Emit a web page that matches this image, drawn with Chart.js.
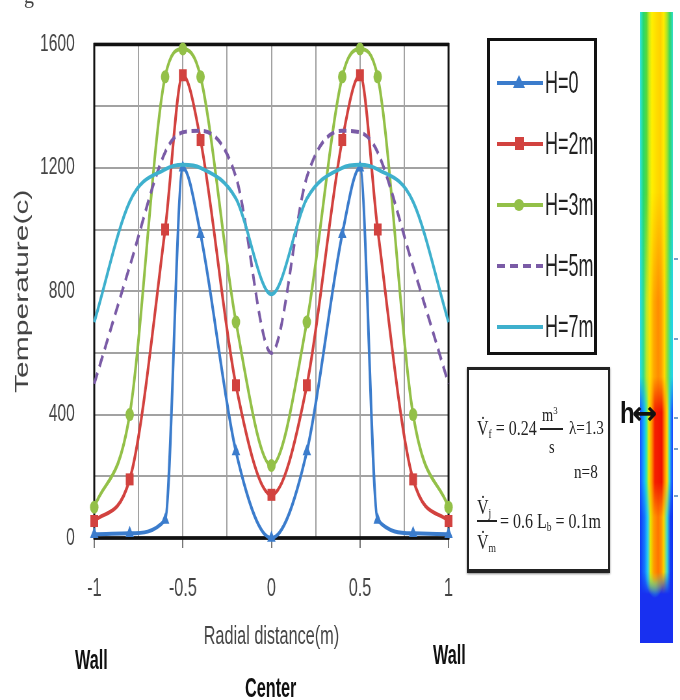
<!DOCTYPE html>
<html>
<head>
<meta charset="utf-8">
<script src="https://cdn.jsdelivr.net/npm/chart.js@4"></script>
<style>
body { margin: 0; background: #fff; }
#page { position: relative; width: 680px; height: 700px; overflow: hidden; font-family: 'Liberation Sans', Arial, sans-serif; }
/* la figura original esta comprimida en horizontal: se dibuja ancha y se estrecha */
#chartBox { position: absolute; left: 0; top: 0; width: 723px; height: 700px; transform: scaleX(0.65); transform-origin: 0 0; }
#legend { position: absolute; left: 487px; top: 38px; width: 104px; height: 311px; border: 3px solid #111; background: #fff; }
#legend .item { position: absolute; left: 7px; height: 30px; display: flex; align-items: center; }
#legend .item span { font-size: 31px; color: #222; display: inline-block; transform: scaleX(0.58); transform-origin: left center; margin-left: 2px; }
#params { position: absolute; left: 467px; top: 367px; width: 139px; height: 199px; border-left: 2px solid #222; border-right: 2px solid #222; border-top: 3px solid #222; border-bottom: 4px solid #222; box-shadow: 0 1px 2px #888; font-family: 'Liberation Serif', serif; color: #222; background: #fff; }
#params div { position: absolute; white-space: nowrap; line-height: 22px; font-size: 20px; transform: scaleX(0.8); transform-origin: left center; }
#params div.bar { height: 1.5px; background: #222; transform: none; }
#params sub { font-size: 12px; vertical-align: -3px; }
.lbl { position: absolute; font-weight: bold; font-size: 28px; color: #111; transform: scaleX(0.58); transform-origin: left center; white-space: nowrap; }
#strip { position: absolute; left: 640px; top: 12px; width: 33px; height: 631px; overflow: hidden; }
#strip div { position: absolute; left: 0; width: 33px; }
.tk { position: absolute; left: 674px; width: 4px; height: 1.5px; background: #7aa0c8; }
</style>
</head>
<body>
<div id="page">
  <div id="chartBox"><canvas id="myChart"></canvas></div>
  <div style="position:absolute;left:24px;top:-15px;font:20px 'Liberation Serif',serif;color:#444;">g</div>
  <div id="legend"></div>
  <div id="params">
    <div style="left:8px;top:47px;">V&#x307;<sub>f</sub> = 0.24</div>
    <div style="left:73px;top:29px;font-size:18px;">m<sup style="font-size:11px;">3</sup></div>
    <div class="bar" style="left:71px;top:58px;width:23px;"></div>
    <div style="left:80px;top:66px;font-size:18px;">s</div>
    <div style="left:100px;top:47px;font-size:19px;">&lambda;=1.3</div>
    <div style="left:105px;top:91px;font-size:19px;">n=8</div>
    <div style="left:8px;top:126px;">V&#x307;<sub>j</sub></div>
    <div class="bar" style="left:8px;top:150px;width:20px;"></div>
    <div style="left:8px;top:161px;">V&#x307;<sub>m</sub></div>
    <div style="left:31px;top:140px;">= 0.6 L<sub>b</sub> = 0.1m</div>
  </div>
  <div class="lbl" style="left:75px;top:644px;">Wall</div>
  <div class="lbl" style="left:433px;top:639px;">Wall</div>
  <div class="lbl" style="left:245px;top:672px;">Center</div>
  <div id="strip">
    <div style="top:0;height:300px;background:linear-gradient(to right,#34e4e8 0%,#26d870 10%,#5ad83a 20%,#c8ea1c 28%,#fff000 36%,#ffdc00 50%,#ffd000 62%,#ffec00 72%,#a6e42a 82%,#2ed668 91%,#30dcd0 100%);"></div>
    <div style="top:180px;height:230px;-webkit-mask-image:linear-gradient(to bottom,transparent,#000 110px);background:linear-gradient(to right,#28dcf0 0%,#30da90 10%,#b8e82a 20%,#ffe000 30%,#ffa800 42%,#ff8c00 55%,#ff9c00 64%,#ffd800 74%,#80e040 84%,#26d8c8 93%,#28d0f0 100%);"></div>
    <div style="top:365px;height:150px;-webkit-mask-image:linear-gradient(to bottom,transparent,#000 35px);background:linear-gradient(to right,#1a4cff 0%,#12b4ff 13%,#3ee6a0 20%,#f0e800 27%,#ff9000 36%,#f42000 45%,#f01000 66%,#ff8000 74%,#ffd800 82%,#38e0c8 89%,#1a70ff 95%,#1a40ff 100%);"></div>
    <div style="top:470px;height:125px;-webkit-mask-image:linear-gradient(to bottom,transparent,#000 35px);background:linear-gradient(to right,#1034f4 0%,#1478ff 14%,#28d4f0 24%,#e8e400 32%,#ff9a00 42%,#ff7400 55%,#ff9000 64%,#f8d400 72%,#3cdcd0 82%,#1440f4 92%,#1030f0 100%);"></div>
    <div style="top:560px;height:71px;-webkit-mask-image:linear-gradient(to bottom,transparent,#000 22px);background:radial-gradient(ellipse 10px 26px at 45% 0%,#d8ea2c 0%,#40dcb0 45%,#1830f0 100%),#0c22e6;"></div>
  </div>
  <div class="tk" style="top:258px;"></div>
  <div class="tk" style="top:338px;"></div>
  <div class="tk" style="top:417px;"></div>
  <div class="tk" style="top:448px;"></div>
  <div class="tk" style="top:495px;"></div>
  <div style="position:absolute;left:620px;top:396px;font:bold 30px 'Liberation Sans',sans-serif;color:#111;transform:scaleX(0.8);transform-origin:left;">h</div>
  <div style="position:absolute;left:632px;top:394px;font:bold 32px 'DejaVu Sans',sans-serif;color:#111;transform:scaleX(0.95);transform-origin:left;">&#x2194;</div>
</div>
<script>
// Datos (temperatura en C frente a distancia radial en m)
const radial = [-1, -0.8, -0.6, -0.5, -0.4, -0.2, 0, 0.2, 0.4, 0.5, 0.6, 0.8, 1];
const tempH0 = [12, 15, 58, 1200, 985, 280, 0, 280, 985, 1200, 58, 15, 12];
const tempH2 = [55, 190, 1000, 1500, 1290, 495, 140, 495, 1290, 1500, 1000, 190, 55];
const tempH3 = [100, 400, 1495, 1585, 1495, 700, 235, 700, 1495, 1585, 1495, 400, 100];
const tempH5 = [500, 880, 1250, 1315, 1320, 1170, 600, 1170, 1320, 1315, 1250, 880, 500];
const tempH7 = [700, 1090, 1195, 1210, 1200, 1100, 790, 1100, 1200, 1210, 1195, 1090, 700];

const seriesNames = ['H=0', 'H=2m', 'H=3m', 'H=5m', 'H=7m'];
const seriesTemps = [tempH0, tempH2, tempH3, tempH5, tempH7];
const seriesColors = ['#3b7ccc', '#d2423f', '#93c048', '#7a5ba6', '#3eb0cd'];
const seriesMarkers = ['triangle', 'rect', 'circle', false, false];
const markerSize = { triangle: 7.5, rect: 8.5, circle: 6.5 };

const datasets = seriesNames.map((name, i) => ({
    label: name,
    data: radial.map((x, j) => ({ x: x, y: seriesTemps[i][j] })),
    borderColor: seriesColors[i],
    backgroundColor: seriesColors[i],
    borderWidth: 4,
    borderDash: i === 3 ? [12, 7] : [],
    pointStyle: seriesMarkers[i] || 'circle',
    pointRadius: seriesMarkers[i] ? markerSize[seriesMarkers[i]] : 0,
    pointBorderWidth: 0,
    cubicInterpolationMode: 'monotone',
    clip: false,
    order: 4 - i
}));

// marco negro alrededor del area del grafico
const frame = {
    id: 'frame',
    beforeDatasetsDraw(chart) {
        const { ctx, chartArea: a } = chart;
        ctx.save();
        ctx.strokeStyle = '#111';
        ctx.lineWidth = 3;
        ctx.strokeRect(a.left, a.top, a.right - a.left, a.bottom - a.top);
        ctx.lineWidth = 3.5;
        ctx.beginPath();
        ctx.moveTo(a.left - 1, a.top); ctx.lineTo(a.right + 1, a.top);
        ctx.moveTo(a.left - 1, a.bottom); ctx.lineTo(a.right + 1, a.bottom);
        ctx.stroke();
        ctx.restore();
    }
};

const isHalf = v => Math.abs(v * 2 - Math.round(v * 2)) < 1e-9;

var ctx = document.getElementById('myChart').getContext('2d');
var myChart = new Chart(ctx, {
    type: 'line',
    data: { datasets: datasets },
    plugins: [frame],
    options: {
        responsive: true,
        maintainAspectRatio: false,
        animation: false,
        layout: { padding: { top: 42, right: 28, bottom: 48, left: 0 } },
        plugins: { legend: { display: false }, tooltip: { enabled: false } },
        scales: {
            x: {
                type: 'linear',
                min: -1,
                max: 1,
                afterFit: s => { s.height = 114; },
                border: { display: false },
                grid: {
                    color: '#a2a2a2',
                    lineWidth: 2,
                    tickLength: 10,
                    tickColor: c => (c.tick && isHalf(c.tick.value)) ? '#777' : 'rgba(0,0,0,0)'
                },
                ticks: {
                    stepSize: 0.25,
                    autoSkip: false,
                    maxRotation: 0,
                    padding: 26,
                    color: '#444',
                    font: { size: 25 },
                    callback: v => isHalf(v) ? String(Math.round(v * 10) / 10) : ''
                },
                title: { display: true, text: 'Radial distance(m)', color: '#444', font: { size: 25 }, padding: 0 }
            },
            y: {
                min: 0,
                max: 1600,
                afterFit: s => { s.width = 145; },
                border: { display: false },
                grid: { color: '#a2a2a2', lineWidth: 2, drawTicks: false },
                ticks: {
                    stepSize: 200,
                    padding: 30,
                    color: '#444',
                    font: { size: 24 },
                    callback: v => v % 400 === 0 ? v : ''
                },
                title: { display: true, text: 'Temperature(c)', color: '#444', font: { size: 30 }, padding: { top: 17, bottom: 0 } }
            }
        }
    }
});

// leyenda en HTML con las mismas series
const legendEl = document.getElementById('legend');
seriesNames.forEach((name, i) => {
    const row = document.createElement('div');
    row.className = 'item';
    row.style.top = (27 + i * 61) + 'px';
    const c = seriesColors[i];
    let mark = '';
    if (seriesMarkers[i] === 'triangle') mark = `<polygon points="22,3 28,16 16,16" fill="${c}"/>`;
    if (seriesMarkers[i] === 'rect') mark = `<rect x="18" y="4" width="9" height="13" fill="${c}"/>`;
    if (seriesMarkers[i] === 'circle') mark = `<ellipse cx="22" cy="11" rx="5" ry="6" fill="${c}"/>`;
    const dash = i === 3 ? 'stroke-dasharray="8 5"' : '';
    row.innerHTML = `<svg width="46" height="22"><line x1="0" y1="11" x2="46" y2="11" stroke="${c}" stroke-width="4" ${dash}/>${mark}</svg><span>${name}</span>`;
    legendEl.appendChild(row);
});
</script>
</body>
</html>
